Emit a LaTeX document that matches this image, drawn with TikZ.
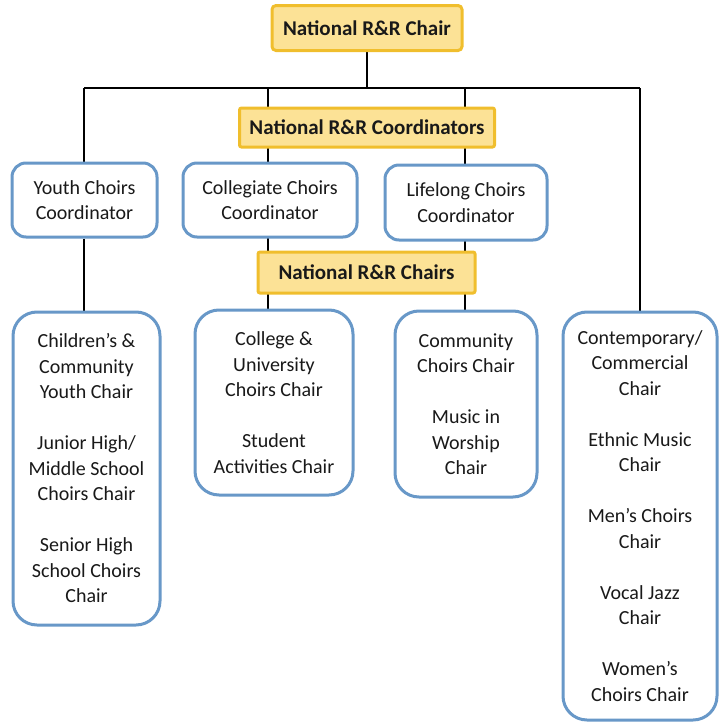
\documentclass[tikz,border=0pt]{standalone}
\usepackage{fontspec}
\setmainfont{Carlito}
\usetikzlibrary{positioning}
\pgfdeclarelayer{bg}
\pgfsetlayers{bg,main}
\definecolor{goldfill}{RGB}{252,226,150}
\definecolor{golddraw}{RGB}{240,190,45}
\definecolor{bluedraw}{RGB}{104,152,200}
\definecolor{inktext}{RGB}{25,25,25}
\tikzset{
  goldbox/.style={draw=golddraw, fill=goldfill, line width=3pt, rounded corners=4pt,
    font=\fontsize{21}{25.5}\selectfont\bfseries, text=inktext, inner sep=0pt, align=center},
  bluebox/.style={draw=bluedraw, fill=white, line width=3pt, rounded corners=14pt,
    font=\fontsize{20}{25.5}\selectfont, text=inktext, inner sep=0pt, align=center},
  tallbox/.style={bluebox, rounded corners=24pt},
  link/.style={draw=black, line width=2.5pt}
}
\begin{document}
\begin{tikzpicture}[x=1pt,y=-1pt]
\useasboundingbox (0,0) rectangle (718,723);

% top level and the two yellow headings
\node[goldbox, minimum width=190pt, minimum height=45pt] (chair) at (367,28) {National R\&R Chair};
\node[goldbox, rounded corners=2pt, minimum width=255pt, minimum height=39pt] (coords) at (367,127.5) {National R\&R Coordinators};
\node[goldbox, rounded corners=2pt, minimum width=217pt, minimum height=41pt] (chairs) at (366.5,272.5) {National R\&R Chairs};

% coordinators
\node[bluebox, minimum width=145pt, minimum height=74pt] (youth) at (84.5,200) {Youth Choirs\\Coordinator};
\node[bluebox, minimum width=174pt, minimum height=74pt] (collegiate) at (270,200) {Collegiate Choirs\\Coordinator};
\node[bluebox, minimum width=162pt, minimum height=75pt] (lifelong) at (466,202.5) {Lifelong Choirs\\Coordinator};

% chairs
\node[tallbox, minimum width=147pt, minimum height=313pt] (kids) at (86.5,468.5)
  {Children’s \&\\Community\\Youth Chair\\[25.5pt]Junior High/\\Middle School\\Choirs Chair\\[25.5pt]Senior High\\School Choirs\\Chair};
\node[tallbox, minimum width=158pt, minimum height=185pt] (college) at (274,402.5)
  {College \&\\University\\Choirs Chair\\[25.5pt]Student\\Activities Chair};
\node[tallbox, minimum width=142pt, minimum height=186pt] (community) at (466,404)
  {Community\\Choirs Chair\\[25.5pt]Music in\\Worship\\Chair};
\node[tallbox, minimum width=154pt, minimum height=408pt, text depth=0pt] (contemp) at (640,516)
  {Contemporary/\\Commercial\\Chair\\[25.5pt]Ethnic Music\\Chair\\[25.5pt]Men’s Choirs\\Chair\\[25.5pt]Vocal Jazz\\Chair\\[25.5pt]Women’s\\Choirs Chair};

% connectors, behind the boxes
\coordinate (barL) at (84,88);
\coordinate (barR) at (640,88);
\coordinate (dropB) at (268,88);
\coordinate (dropC) at (465,88);
\begin{pgfonlayer}{bg}
  \draw[link] (chair.south) -- (chair.south |- barL);
  \draw[link] (barL) -- (barR);
  \draw[link] (barL) -- (barL |- youth.north);
  \draw[link] (youth.south -| barL) -- (barL |- kids.north);
  \draw[link] (dropB) -- (dropB |- college.north);
  \draw[link] (dropC) -- (dropC |- community.north);
  \draw[link] (barR) -- (barR |- contemp.north);
\end{pgfonlayer}
\end{tikzpicture}
\end{document}
